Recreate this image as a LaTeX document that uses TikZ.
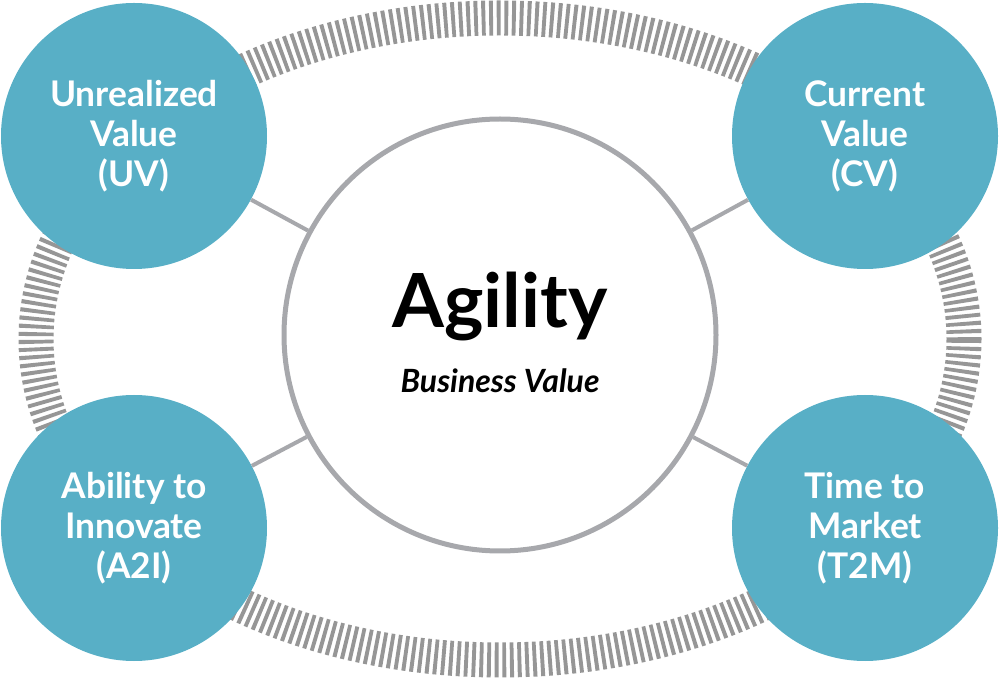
\documentclass[tikz,border=0pt]{standalone}
\usepackage{fontspec}
\setmainfont{Lato}
\usetikzlibrary{positioning}
\definecolor{valueteal}{RGB}{88,175,198}
\definecolor{linegray}{RGB}{167,168,172}
\definecolor{stripegray}{RGB}{150,150,150}
\tikzset{
  valnode/.style={
    circle, fill=valueteal, minimum size=199.5pt, inner sep=0pt, text=white,
    align=center, font=\bfseries\fontsize{26.5}{30}\selectfont
  },
  corenode/.style={
    circle, draw=linegray, line width=3.75pt, fill=white, minimum size=324pt,
    inner sep=0pt
  },
  link/.style={
    draw=linegray, line width=3pt
  },
  ring/.style={
    draw=stripegray, line width=26.25pt, dash pattern=on 2.9pt off 2.8pt
  }
}

\begin{document}
\begin{tikzpicture}[x=0.75pt,y=-0.75pt]
 \useasboundingbox (0,0) rectangle (1000,680);

 \draw[ring] (500,339) ellipse [x radius=464, y radius=321];

 \node[corenode] (core) at (500,335) {};
 \node[valnode] (uv) at (134,136) {Unrealized\\Value\\(UV)};
 \node[valnode] (cv) at (865,136) {Current\\Value\\(CV)};
 \node[valnode] (a2i) at (134,528) {Ability to\\Innovate\\(A2I)};
 \node[valnode] (t2m) at (865,528) {Time to\\Market\\(T2M)};

 \draw[link] (core) -- (uv);
 \draw[link] (core) -- (cv);
 \draw[link] (core) -- (a2i);
 \draw[link] (core) -- (t2m);

 \node[anchor=base, font=\bfseries\fontsize{56}{64}\selectfont] (agility) at (500,328) {Agility};
 \node[anchor=base, font=\bfseries\itshape\fontsize{24}{28}\selectfont] (bizvalue) at (500,393) {Business Value};
\end{tikzpicture}
\end{document}
